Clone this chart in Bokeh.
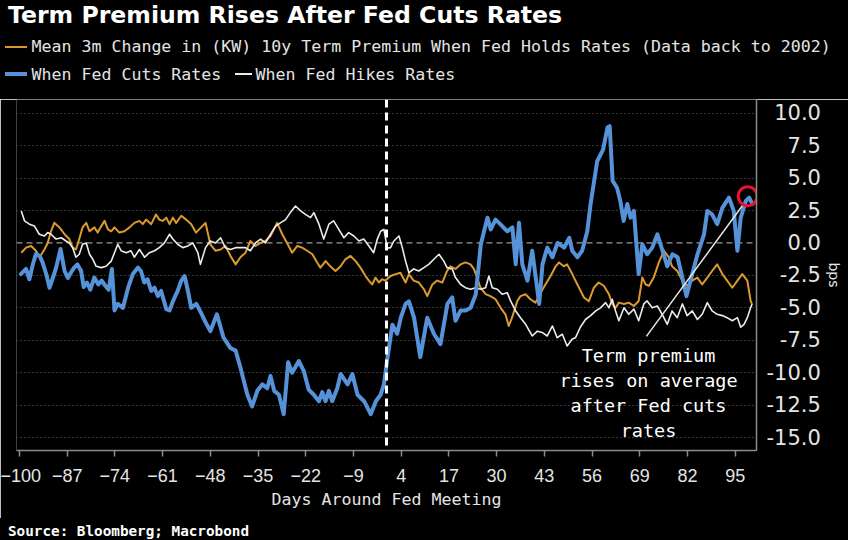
from bokeh.plotting import figure
from bokeh.layouts import column
from bokeh.models import Range1d, FixedTicker, Span, Label, Div
from bokeh.embed import file_html
from bokeh.resources import INLINE

# ---------------- texts ----------------
TITLE = "Term Premium Rises After Fed Cuts Rates"
LEGEND_HOLDS = "Mean 3m Change in (KW) 10y Term Premium When Fed Holds Rates (Data back to 2002)"
LEGEND_CUTS = "When Fed Cuts Rates"
LEGEND_HIKES = "When Fed Hikes Rates"
X_LABEL = "Days Around Fed Meeting"
Y_LABEL = "bps"
SOURCE = "Source: Bloomberg; Macrobond"
NOTE_LINES = ["Term premium", "rises on average", "after Fed cuts", "rates"]

# ---------------- ticks ----------------
X_TICKS = [-100, -87, -74, -61, -48, -35, -22, -9, 4, 17, 30, 43, 56, 69, 82, 95]
Y_TICKS = [10.0, 7.5, 5.0, 2.5, 0.0, -2.5, -5.0, -7.5, -10.0, -12.5, -15.0]
Y_TICK_LABELS = ["10.0", "7.5", "5.0", "2.5", "0.0", "-2.5", "-5.0", "-7.5", "-10.0", "-12.5", "-15.0"]

# ---------------- series (bps) ----------------
CUTS_DAYS = [-99.6, -98.2, -97.3, -96.3, -95.5, -94.5, -93.7, -92.7, -91.8, -90.9, -90.0, -88.8, -87.7, -86.8,
             -86.0, -85.1, -84.2, -83.2, -82.5, -81.6, -80.7, -79.6, -78.5, -77.6, -76.6, -75.7, -74.8, -74.1,
             -73.2, -71.8, -70.4, -69.1, -67.7, -66.9, -66.0, -65.1, -64.1, -63.2, -62.3, -61.4, -60.0, -59.1,
             -58.2, -56.9, -55.9, -55.0, -54.1, -53.2, -51.8, -50.5, -49.5, -48.0, -46.2, -44.4, -42.5, -41.1,
             -39.8, -37.9, -36.6, -35.2, -33.8, -32.5, -31.6, -30.6, -29.3, -28.0, -26.8, -25.7, -23.9, -22.5,
             -21.2, -19.8, -18.4, -17.5, -16.6, -15.7, -14.8, -13.4, -12.5, -10.6, -9.3, -7.9, -6.1, -4.3,
             -2.9, -1.6, -0.7, 0.2, 1.6, 2.9, 3.9, 5.2, 6.1, 7.5, 9.2, 11.1, 12.9, 14.7, 16.6, 17.9, 18.8,
             20.2, 21.6, 22.9, 24.3, 25.7, 27.5, 28.4, 29.7, 31.0, 32.9, 34.3, 35.2, 36.1, 37.0, 38.4, 39.7,
             41.6, 42.5, 43.8, 45.2, 46.6, 48.4, 49.8, 50.6, 52.0, 53.3, 54.7, 55.6, 57.4, 59.0, 60.2, 60.8,
             61.6, 62.8, 63.7, 64.6, 65.6, 66.5, 67.4, 68.7, 69.7, 71.0, 72.4, 73.8, 75.2, 76.5, 77.9, 79.3,
             80.6, 81.7, 83.3, 84.6, 86.5, 87.4, 88.7, 90.1, 91.5, 93.3, 94.6, 95.6, 96.5, 97.9, 98.8, 99.7]
CUTS_BPS = [-2.4, -2.0, -2.8, -1.6, -0.85, -1.0, -1.5, -2.4, -3.45, -2.7, -1.9, -0.47, -2.16, -2.7,
            -2.3, -1.9, -1.65, -2.16, -3.4, -3.05, -3.6, -2.67, -3.2, -2.9, -3.3, -3.6, -2.0, -5.2,
            -4.7, -5.0, -3.45, -2.4, -1.9, -2.16, -3.05, -2.8, -3.7, -3.45, -4.1, -3.7, -5.1, -5.2,
            -4.5, -3.7, -2.9, -2.55, -3.7, -5.0, -4.7, -5.4, -6.0, -6.8, -5.5, -7.3, -8.1, -8.3,
            -9.6, -11.7, -12.6, -11.4, -10.9, -11.2, -10.25, -11.4, -11.7, -13.2, -9.2, -10.0, -9.1, -9.9,
            -11.3, -11.7, -12.2, -11.5, -12.2, -11.4, -12.2, -11.2, -10.1, -10.9, -10.1, -11.7, -12.2, -13.2,
            -12.2, -11.7, -10.9, -9.0, -6.3, -7.0, -5.76, -4.7, -4.5, -5.76, -8.8, -5.76, -7.0, -7.8, -4.7, -4.2, -6.0,
            -5.2, -5.2, -5.0, -4.0, -0.1, 1.95, 1.05, 1.8, 1.45, 0.9, 1.2, -1.65, 1.55, -1.65, -2.9, -0.6,
            -4.7, -1.65, -0.36, -1.1, 0.0, -0.36, 0.4, -0.6, -1.1, -0.6, 0.9, 3.0, 6.3, 7.2, 8.9, 9.0,
            4.8, 4.26, 3.24, 1.7, 3.0, 1.95, 2.47, -2.4, -0.1, -0.87, -0.36, 0.67, -0.6, -1.8, -0.87, -1.1,
            -2.67, -4.1, -2.4, -1.0, 0.67, 2.47, 2.2, 1.45, 2.7, 3.5, 2.47, -0.6, 1.95, 3.24, 3.5, 3.0]

HOLDS_DAYS = [-99.5, -98.2, -96.8, -95.5, -94.5, -93.2, -92.3, -91.4, -90.5, -89.1, -87.7, -86.4, -85.5, -84.6,
              -83.7, -82.8, -81.8, -80.9, -79.6, -78.7, -77.7, -76.8, -75.9, -75.0, -74.1, -72.8, -71.4, -70.0,
              -68.7, -67.3, -66.4, -65.5, -64.1, -62.8, -61.9, -61.0, -60.0, -59.1, -58.2, -57.3, -55.9, -54.6,
              -53.2, -51.9, -50.5, -49.3, -48.0, -46.6, -45.2, -43.9, -42.5, -41.1, -39.8, -38.4, -37.1, -35.7,
              -34.3, -33.0, -31.6, -30.7, -29.8, -28.4, -27.1, -25.7, -24.3, -23.0, -21.6, -20.2, -18.9, -18.0,
              -16.6, -15.3, -13.9, -12.5, -11.2, -9.8, -8.4, -7.1, -5.7, -4.8, -3.9, -3.0, -2.1, -1.2, -0.3,
              1.1, 2.5, 3.8, 5.2, 6.1, 7.4, 8.8, 10.2, 11.1, 12.5, 13.8, 15.2, 16.5, 17.4, 18.8, 20.2, 21.5,
              22.9, 23.8, 24.7, 25.6, 27.0, 28.3, 29.7, 31.1, 32.4, 33.3, 34.2, 35.6, 36.5, 37.9, 39.2, 40.6,
              42.0, 43.3, 44.7, 46.1, 47.0, 48.3, 49.2, 50.6, 52.0, 53.8, 55.1, 56.5, 57.8, 59.2, 60.6, 61.5,
              62.4, 63.3, 64.7, 66.0, 67.4, 68.7, 69.7, 70.6, 71.5, 72.8, 74.2, 75.6, 76.9, 77.8, 79.2, 80.6,
              81.9, 83.3, 84.7, 86.0, 87.4, 88.7, 90.1, 91.5, 92.8, 94.2, 95.6, 96.9, 98.3, 99.2, 99.6]
HOLDS_BPS = [-0.75, -0.36, -0.23, -0.6, -1.1, -0.5, 0.0, 0.9, 1.55, 1.2, 0.67, 0.3, -0.36, -0.5,
             0.3, 1.2, 1.55, 0.9, 1.2, 0.8, 1.3, 1.7, 1.05, 0.9, 1.2, 0.8, 0.9, 1.2,
             1.55, 1.7, 1.45, 1.8, 1.45, 2.2, 1.8, 1.7, 1.95, 1.45, 1.95, 1.55, 2.1, 1.8,
             1.45, 0.8, 1.2, 1.55, -0.1, -0.6, -0.5, -0.23, -1.0, -1.65, -1.1, -0.75, 0.15, -0.23,
             0.0, 0.15, 0.54, 1.05, 1.55, 0.67, 0.0, -0.75, -0.23, -0.36, -0.6, -0.87, -1.5, -1.9,
             -1.4, -1.8, -2.16, -1.8, -1.26, -1.0, -1.4, -1.9, -2.55, -2.9, -3.2, -2.67, -3.05, -2.8, -2.9,
             -2.55, -2.4, -2.3, -3.05, -2.4, -2.9, -3.05, -3.57, -4.1, -3.2, -2.9, -3.05, -2.16, -1.8, -2.0, -1.65, -1.5,
             -1.65, -2.0, -2.67, -3.45, -3.95, -4.1, -4.34, -5.0, -5.5, -6.4, -5.76, -4.5, -4.1, -3.95, -4.34, -4.6,
             -3.83, -3.2, -2.55, -1.8, -1.5, -1.8, -1.65, -2.4, -3.2, -4.2, -4.5, -3.45, -3.05, -3.3, -3.95, -4.7,
             -5.0, -4.6, -4.7, -4.6, -4.86, -4.47, -2.67, -3.2, -3.3, -2.67, -1.5, -0.6, -1.1, -1.8, -2.16, -2.9,
             -3.3, -2.9, -2.67, -3.2, -2.67, -2.16, -1.65, -2.4, -2.9, -3.45, -2.9, -2.4, -2.9, -4.47, -4.7]

HIKES_DAYS = [-99.5, -98.6, -97.3, -95.9, -94.6, -93.2, -92.3, -91.4, -90.0, -88.6, -87.3, -86.4, -85.5, -84.6,
              -83.7, -82.8, -81.8, -80.9, -80.0, -79.1, -77.7, -76.4, -75.0, -74.1, -73.2, -72.3, -70.9, -69.6,
              -68.7, -67.3, -65.9, -64.6, -63.2, -61.9, -60.5, -59.1, -58.2, -56.9, -55.5, -54.1, -52.8, -51.4,
              -50.7, -49.3, -48.0, -46.6, -45.2, -43.9, -42.5, -41.1, -39.8, -38.4, -37.1, -35.7, -34.3, -33.0,
              -31.6, -30.2, -28.9, -27.5, -26.2, -24.8, -23.4, -22.1, -20.7, -19.8, -18.4, -17.1, -15.7, -14.4,
              -13.0, -11.6, -10.3, -8.9, -7.5, -6.2, -4.8, -3.5, -2.5, -1.6, -0.7, 0.2, 1.1, 2.0, 3.4, 4.3,
              5.2, 6.1, 7.4, 8.8, 10.2, 11.5, 12.9, 14.3, 15.6, 16.5, 17.9, 18.8, 20.2, 21.5, 22.9, 24.3, 25.6,
              27.0, 27.9, 28.8, 30.2, 31.5, 32.9, 33.8, 35.2, 36.5, 37.9, 39.7, 41.1, 42.4, 43.8, 45.2, 46.5,
              47.9, 49.2, 50.6, 51.5, 52.8, 54.2, 55.6, 57.0, 58.3, 59.7, 60.6, 61.5, 62.4, 63.3, 64.7, 66.0,
              67.4, 68.7, 70.1, 71.0, 72.4, 73.8, 75.1, 76.5, 77.8, 79.2, 80.6, 81.9, 83.3, 84.7, 86.0, 87.4,
              88.7, 90.1, 91.5, 92.8, 94.2, 95.6, 96.5, 97.4, 98.3, 99.2, 99.6]
HIKES_BPS = [2.47, 1.7, 1.45, 1.3, 0.67, 0.54, 0.8, 0.67, 0.3, 0.4, 0.15, 0.0, -0.36, -1.1,
             -0.87, -0.1, 0.0, -0.87, -1.26, -1.8, -1.9, -1.8, -1.4, -0.75, -0.1, -0.6, -0.75, -0.6,
             -1.1, -0.5, -1.1, -0.75, -0.6, -0.36, 0.0, 0.67, 0.3, -0.1, -0.36, -0.23, 0.0, -0.75,
             -1.65, -0.36, 0.15, 0.0, 0.4, -0.36, -0.5, -0.36, -0.36, -0.36, -0.6, 0.0, 0.3, 0.0,
             0.67, 1.3, 1.55, 1.8, 2.34, 2.85, 2.47, 2.2, 1.95, 2.34, 1.45, 0.3, 1.45, 1.7,
             1.05, 0.4, 0.8, 0.54, 0.15, 0.3, -0.23, -0.75, 0.3, 0.9, 1.05, -0.4, -0.36, 0.15, 0.54, -0.36,
             -1.4, -2.3, -2.0, -2.16, -1.9, -1.65, -1.26, -0.87, -1.4, -1.9, -2.0, -2.67, -3.2, -3.45, -3.57, -3.45, -3.57,
             -3.45, -2.55, -3.45, -3.57, -3.95, -3.83, -4.47, -5.24, -5.76, -6.27, -7.17, -6.8, -6.9, -7.17, -6.4, -7.3,
             -7.04, -7.94, -7.4, -7.3, -6.5, -5.9, -5.6, -5.24, -5.0, -4.6, -5.0, -4.34, -5.24, -6.0, -5.0, -5.5,
             -5.1, -6.0, -4.7, -4.47, -5.0, -4.86, -5.5, -6.27, -5.24, -5.76, -4.7, -5.6, -5.24, -5.9, -5.5, -4.6,
             -5.24, -5.5, -5.6, -5.76, -6.0, -5.76, -6.5, -6.27, -5.76, -5.0, -4.7]

MEETING_DAY = 0
POINTER_DAYS = [70.8, 97.3]
POINTER_BPS = [-7.2, 3.0]
HIGHLIGHT_DAYS = [98.4]
HIGHLIGHT_BPS = [3.6]

# ---------------- styles ----------------
BLUE = "#5592d8"
ORANGE = "#dc9a2e"
WHITE = "#ececec"
TEXT = "#e4e4e4"
GRID = "#6a6a6a"
AXIS = "#8c8c8c"
MONO = "DejaVu Sans Mono"

W = 848
HEAD_H, FOOT_H = 99, 22
MAIN_H = 540 - HEAD_H - FOOT_H
FL, FR = 16, 756                      # frame left/right (page px)
FT, FB = 99, 450                      # frame top/bottom (page px)
XS, XE = -100.8, 100.8
YS, YE = -16.0, 11.06


def fx(px):
    return XS + (px - FL) * (XE - XS) / (FR - FL)


def fy(py):
    return YE - (py - FT) * (YE - YS) / (FB - FT)


def pad_label(s):
    # right-align right-axis labels: figure space per missing digit, thin+6/em space for a missing minus
    n_digits = sum(c.isdigit() for c in s)
    pad = "\u2007" * (3 - n_digits)
    if not s.startswith("-"):
        pad += "\u2009\u2006"
    return pad + s


def txt(left, top, text, font, size, color, weight="normal"):
    return (f'<div style="position:absolute;left:{left}px;top:{top}px;white-space:nowrap;line-height:1;'
            f"font-family:'{font}';font-size:{size}px;font-weight:{weight};color:{color};\">{text}</div>")


def swatch(left, top, width, height, color):
    return (f'<div style="position:absolute;left:{left}px;top:{top}px;width:{width}px;height:{height}px;'
            f'background:{color};"></div>')


# ---------------- header: title + legend (HTML text) ----------------
head_html = (
    f'<div style="position:relative;width:{W}px;height:{HEAD_H}px;background:#000;overflow:hidden;">'
    + txt(8, 4.0, TITLE, "DejaVu Sans", 23.6, "#ffffff", "bold")
    + swatch(5, 45.5, 22, 2.5, ORANGE)
    + txt(31.5, 39.3, LEGEND_HOLDS, MONO, 16.6, TEXT)
    + swatch(5, 72, 22, 4, BLUE)
    + txt(31.5, 67, LEGEND_CUTS, MONO, 16.6, TEXT)
    + swatch(235, 73, 17, 2, WHITE)
    + txt(255.5, 67, LEGEND_HIKES, MONO, 16.6, TEXT)
    + "</div>"
)
head = Div(text=head_html, width=W, height=HEAD_H, margin=0, styles={"background-color": "black"})

# ---------------- main chart ----------------
p = figure(width=W, height=MAIN_H, output_backend="svg", toolbar_location=None, title=None,
           x_range=Range1d(XS, XE), y_range=Range1d(YS, YE), y_axis_location="right",
           min_border_left=FL, min_border_right=W - FR, min_border_top=0,
           min_border_bottom=MAIN_H - (FB - FT))
p.background_fill_color = "black"
p.border_fill_color = "black"
p.outline_line_color = None

xa = p.xaxis[0]
xa.ticker = FixedTicker(ticks=X_TICKS)
xa.axis_line_color = AXIS
xa.axis_line_width = 1.5
xa.major_tick_line_color = AXIS
xa.major_tick_line_width = 1.5
xa.major_tick_out = 6
xa.major_tick_in = 0
xa.minor_tick_line_color = None
xa.major_label_text_font = "Liberation Sans"
xa.major_label_text_font_size = "18px"
xa.major_label_text_color = TEXT
xa.major_label_standoff = 12
xa.axis_label = X_LABEL
xa.axis_label_text_font = MONO
xa.axis_label_text_font_size = "16.6px"
xa.axis_label_text_font_style = "normal"
xa.axis_label_text_color = TEXT
xa.axis_label_standoff = 5

ya = p.yaxis[0]
ya.ticker = FixedTicker(ticks=Y_TICKS)
ya.major_label_overrides = {t: pad_label(s) for t, s in zip(Y_TICKS, Y_TICK_LABELS)}
ya.axis_line_color = AXIS
ya.axis_line_width = 1.5
ya.major_tick_line_color = None
ya.minor_tick_line_color = None
ya.major_tick_out = 0
ya.major_tick_in = 0
ya.major_label_standoff = 10
ya.major_label_text_font = "DejaVu Sans"
ya.major_label_text_font_size = "21px"
ya.major_label_text_color = TEXT
ya.axis_label = Y_LABEL
ya.axis_label_text_font = "DejaVu Sans"
ya.axis_label_text_font_size = "14px"
ya.axis_label_text_font_style = "normal"
ya.axis_label_text_color = TEXT
ya.axis_label_standoff = 2

p.xgrid.visible = False
p.ygrid.ticker = FixedTicker(ticks=[t for t in Y_TICKS if t != 0])
p.ygrid.grid_line_color = GRID
p.ygrid.grid_line_dash = "1 3"
p.ygrid.grid_line_width = 1
p.add_layout(Span(location=0, dimension="width", line_color="#9a9a9a", line_dash="6 4", line_width=1.2,
                  level="underlay"))

p.line(HOLDS_DAYS, HOLDS_BPS, line_color=ORANGE, line_width=2, line_join="round")
p.line(HIKES_DAYS, HIKES_BPS, line_color=WHITE, line_width=1.6, line_join="round")
p.line(CUTS_DAYS, CUTS_BPS, line_color=BLUE, line_width=4, line_join="round", line_cap="round")

p.add_layout(Span(location=MEETING_DAY, dimension="height", line_color="white", line_width=3, line_dash="8 5"))

p.line(POINTER_DAYS, POINTER_BPS, line_color="#e6e6e6", line_width=1.5)
p.scatter(HIGHLIGHT_DAYS, HIGHLIGHT_BPS, marker="circle", size=19, fill_color=None,
          line_color="#e8122c", line_width=3)
for i, t in enumerate(NOTE_LINES):
    p.add_layout(Label(x=fx(648), y=fy(355 + 25 * i), text=t, text_font=MONO, text_font_size="18.5px",
                       text_color="white", text_align="center", text_baseline="middle"))

# ---------------- footer: source (HTML text) ----------------
foot_html = (
    f'<div style="position:relative;width:{W}px;height:{FOOT_H}px;background:#000;overflow:hidden;">'
    + txt(8, 6.4, SOURCE, MONO, 14.3, "#ffffff", "bold")
    + "</div>"
)
foot = Div(text=foot_html, width=W, height=FOOT_H, margin=0, styles={"background-color": "black"})

layout = column(head, p, foot, spacing=0)
open("out.html", "w").write(file_html(layout, INLINE))
